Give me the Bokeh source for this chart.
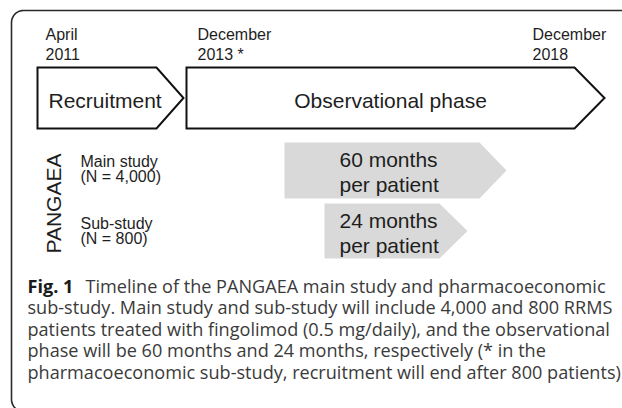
import numpy as np
from bokeh.plotting import figure
from bokeh.models import Range1d
from bokeh.core.properties import value
from bokeh.embed import file_html
from bokeh.resources import INLINE

# ---------------- data ----------------
date_months = ["April", "December", "December"]
date_years = ["2011", "2013 *", "2018"]
phases = ["Recruitment", "Observational phase"]
studies = ["Main study", "Sub-study"]
study_sizes = ["(N = 4,000)", "(N = 800)"]
months_per_patient = [60, 24]
group_label = "PANGAEA"
caption_bold = "Fig. 1"
caption_lines = [
    "Timeline of the PANGAEA main study and pharmacoeconomic",
    "sub-study. Main study and sub-study will include 4,000 and 800 RRMS",
    "patients treated with fingolimod (0.5 mg/daily), and the observational",
    "phase will be 60 months and 24 months, respectively (* in the",
    "pharmacoeconomic sub-study, recruitment will end after 800 patients)",
]

# ---------------- layout (pixel positions, y downward) ----------------
W, H = 622, 408
DY = 6  # baseline correction for rendered text
def Y(py):
    return -py
def TY(py):
    return -(py - DY)

p = figure(width=W, height=H, output_backend="svg", toolbar_location=None,
           x_range=Range1d(0, W), y_range=Range1d(Y(H), Y(0)),
           min_border=0, outline_line_color=None, background_fill_color="white",
           border_fill_color="white")
p.axis.visible = False
p.grid.visible = False

LBL = value("Liberation Sans")
CAP = value("Open Sans")
INK = "#1e1e1e"

# outer frame (rounded top-left and bottom-left corners)
r = 12
t = np.linspace(np.pi / 2, np.pi, 12)
top_x = list(11 + r + r * np.cos(t))
top_y = list(10 + r - r * np.sin(t))
b = np.linspace(np.pi, 1.5 * np.pi, 12)
bot_x = list(11 + r + r * np.cos(b))
bot_y = list(399 - r * np.sin(b))
fx = [640] + top_x + bot_x + [640]
fy = [10] + top_y + bot_y + [411]
p.line(fx, [Y(v) for v in fy], line_color="#2a2a2a", line_width=1.6)

# date labels
date_x = [45, 197, 532]
p.text(x=date_x, y=[TY(40)] * 3, text=date_months, text_font=LBL,
       text_font_size="16px", text_color=INK, text_baseline="alphabetic")
p.text(x=date_x, y=[TY(59.5)] * 3, text=date_years, text_font=LBL,
       text_font_size="16px", text_color=INK, text_baseline="alphabetic")

# phase arrows
top, bot = 67, 128
mid = (top + bot) / 2
phase_x0 = [37, 186]
phase_x1 = [156, 574]
phase_tip = [183, 604]
xs, ys = [], []
for x0, x1, xt in zip(phase_x0, phase_x1, phase_tip):
    xs.append([x0, x1, xt, x1, x0])
    ys.append([Y(top), Y(top), Y(mid), Y(bot), Y(bot)])
p.patches(xs, ys, fill_color="white", line_color="#111111", line_width=2,
          line_join="miter")
phase_text_x = [48, 390]
phase_align = ["left", "center"]
for tx, txt, al in zip(phase_text_x, phases, phase_align):
    p.text(x=[tx], y=[TY(106)], text=[txt], text_font=LBL, text_font_size="21px",
           text_color=INK, text_baseline="alphabetic", text_align=al)

# grey study arrows
g_x0 = [284, 324]
g_x1 = [479, 439]
g_tip = [506, 467]
g_top = [142, 203]
g_bot = [198, 258]
gxs, gys = [], []
for x0, x1, xt, t0, b0 in zip(g_x0, g_x1, g_tip, g_top, g_bot):
    m = (t0 + b0) / 2
    gxs.append([x0, x1, xt, x1, x0])
    gys.append([Y(t0), Y(t0), Y(m), Y(b0), Y(b0)])
p.patches(gxs, gys, fill_color="#d9d9d9", line_color=None)

month_base1 = [165, 226]
for mth, bb in zip(months_per_patient, month_base1):
    p.text(x=[339], y=[TY(bb)], text=[f"{mth} months"], text_font=LBL,
           text_font_size="21px", text_color=INK, text_baseline="alphabetic")
    p.text(x=[339], y=[TY(bb + 24.5)], text=["per patient"], text_font=LBL,
           text_font_size="21px", text_color=INK, text_baseline="alphabetic")

# study labels
study_base = [166.5, 228.5]
for s, n, bb in zip(studies, study_sizes, study_base):
    p.text(x=[80], y=[TY(bb)], text=[s], text_font=LBL, text_font_size="16px",
           text_color=INK, text_baseline="alphabetic")
    p.text(x=[80], y=[TY(bb + 15.5)], text=[n], text_font=LBL, text_font_size="16px",
           text_color=INK, text_baseline="alphabetic")

# rotated group label
p.text(x=[53], y=[Y(253)], text=[group_label], text_font=LBL, text_font_size="21px",
       text_color=INK, text_baseline="alphabetic", text_align="left", angle=np.pi / 2)

# caption
cap_base = [291, 312.5, 334, 355.5, 377]
CAP_SIZE = "18.1px"
p.text(x=[27], y=[TY(cap_base[0])], text=[caption_bold], text_font=CAP,
       text_font_size=CAP_SIZE, text_font_style="bold", text_color="#1a1a1a",
       text_baseline="alphabetic")
cap_x = [85, 27, 27, 27, 27]
p.text(x=cap_x, y=[TY(v) for v in cap_base], text=caption_lines, text_font=CAP,
       text_font_size=CAP_SIZE, text_color="#3a3a3a", text_baseline="alphabetic")

open("out.html", "w").write(file_html(p, INLINE))
